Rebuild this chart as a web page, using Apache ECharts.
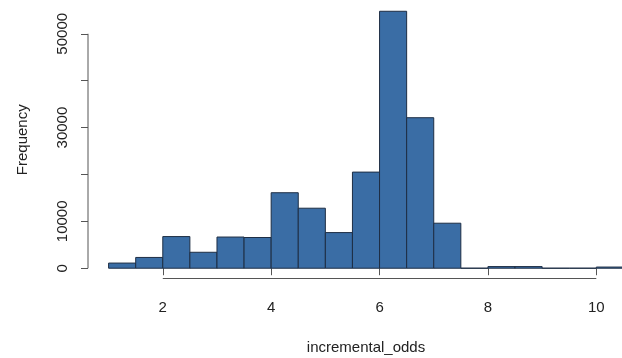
<!DOCTYPE html>
<html>
<head>
<meta charset="utf-8">
<script src="https://cdn.jsdelivr.net/npm/echarts@6/dist/echarts.min.js"></script>
<style>
  html, body { margin: 0; padding: 0; background: #fff; }
  #chart { width: 622px; height: 358px; }
</style>
</head>
<body>
<div id="chart"></div>
<script>
// Histogram of incremental_odds, bins of width 0.5
const binStarts = [1, 1.5, 2, 2.5, 3, 3.5, 4, 4.5, 5, 5.5, 6, 6.5, 7, 7.5, 8, 8.5, 9, 9.5, 10];
const binWidth = 0.5;
const counts = [1100, 2300, 6750, 3400, 6650, 6550, 16100, 12800, 7600, 20500, 54800, 32100, 9600, 0, 350, 350, 0, 0, 250];
const xTicks = [2, 4, 6, 8, 10];
const yTicks = [0, 10000, 20000, 30000, 40000, 50000];
const yLabels = [0, 10000, 30000, 50000];

const FONT = 'Liberation Sans, Arial, Helvetica, sans-serif';
const AXIS_COLOR = '#555';
const TEXT_COLOR = '#222';

// R-style range expansion (4% on each side)
const xLo = binStarts[0];
const xHi = binStarts[binStarts.length - 1] + binWidth;
const xPad = (xHi - xLo) * 0.04;
const yMax = Math.max(...counts);
const yPad = yMax * 0.04;

const bins = binStarts.map((s, i) => [s, s + binWidth, counts[i]]);

const chart = echarts.init(document.getElementById('chart'));
chart.setOption({
  animation: false,
  grid: { left: 88, top: 1, width: 556, height: 277.5, outerBoundsMode: 'none', containLabel: false },
  xAxis: {
    type: 'value',
    min: xLo - xPad,
    max: xHi + xPad,
    axisLine: { show: false },
    splitLine: { show: false },
    axisTick: { show: true, length: 7, customValues: xTicks, lineStyle: { color: AXIS_COLOR } },
    axisLabel: { customValues: xTicks, formatter: v => String(v), color: TEXT_COLOR, fontFamily: FONT, fontSize: 15, margin: 22 },
    name: 'incremental_odds',
    nameLocation: 'middle',
    nameGap: 62,
    nameTextStyle: { color: TEXT_COLOR, fontFamily: FONT, fontSize: 15 }
  },
  yAxis: {
    type: 'value',
    min: -yPad,
    max: yMax + yPad,
    axisLine: { show: false },
    splitLine: { show: false },
    axisTick: { show: true, length: 7, customValues: yTicks, lineStyle: { color: AXIS_COLOR } },
    axisLabel: { customValues: yLabels, formatter: v => String(v), rotate: 90, color: TEXT_COLOR, fontFamily: FONT, fontSize: 15, margin: 18 },
    name: 'Frequency',
    nameLocation: 'middle',
    nameGap: 58,
    nameRotate: 90,
    nameTextStyle: { color: TEXT_COLOR, fontFamily: FONT, fontSize: 15 }
  },
  series: [{
    type: 'custom',
    data: bins,
    encode: { x: [0, 1], y: 2 },
    renderItem: function (params, api) {
      const p0 = api.coord([api.value(0), 0]);
      const p1 = api.coord([api.value(1), api.value(2)]);
      return {
        type: 'rect',
        shape: { x: p0[0], y: p1[1], width: p1[0] - p0[0], height: p0[1] - p1[1] },
        style: { fill: '#3A6DA5', stroke: '#1E2E44', lineWidth: 1 }
      };
    }
  }]
});

// R-style axis lines that span only from the first to the last tick
function drawAxisLines() {
  const a = chart.convertToPixel({ gridIndex: 0 }, [xTicks[0], yTicks[0]]);
  const b = chart.convertToPixel({ gridIndex: 0 }, [xTicks[xTicks.length - 1], yTicks[yTicks.length - 1]]);
  const rect = chart.getModel().getComponent('grid', 0).coordinateSystem.getRect();
  const bottom = rect.y + rect.height;
  const left = rect.x;
  chart.setOption({
    graphic: [
      { type: 'line', shape: { x1: a[0], y1: bottom, x2: b[0], y2: bottom }, style: { stroke: AXIS_COLOR, lineWidth: 1 } },
      { type: 'line', shape: { x1: left, y1: a[1], x2: left, y2: b[1] }, style: { stroke: AXIS_COLOR, lineWidth: 1 } }
    ]
  });
}
drawAxisLines();
</script>
</body>
</html>
